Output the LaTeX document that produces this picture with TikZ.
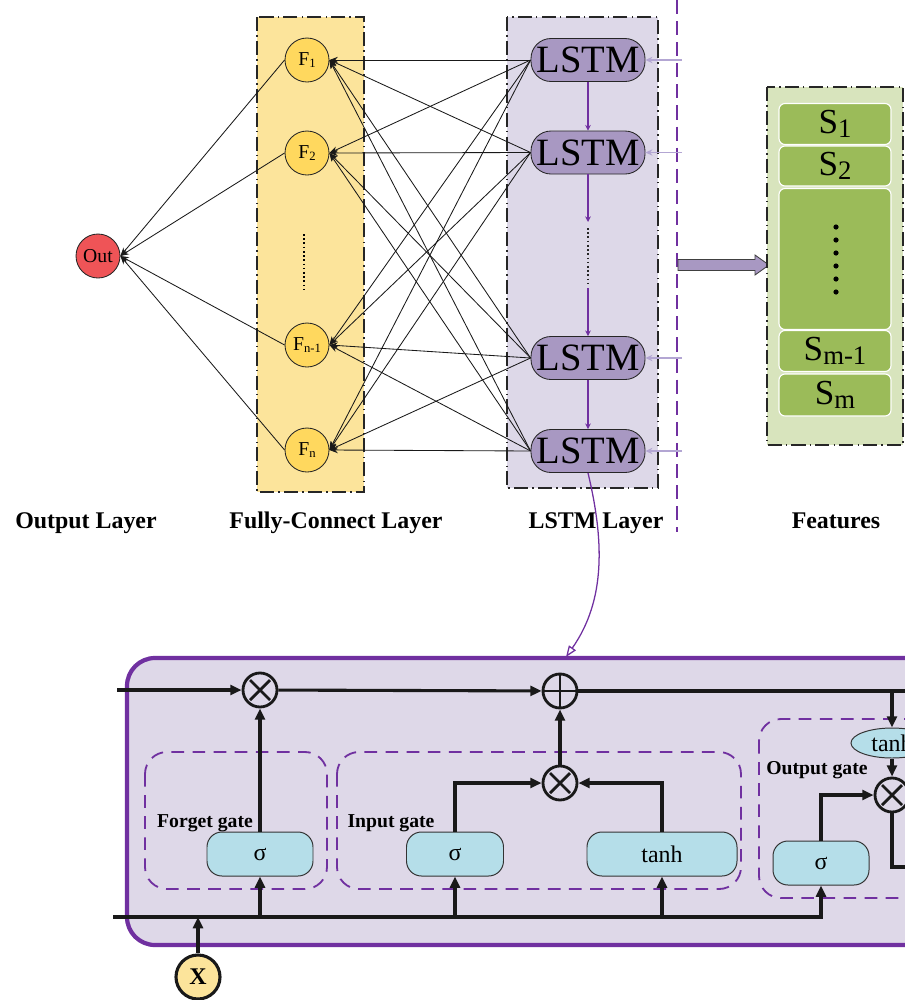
\documentclass[tikz,border=0pt]{standalone}
\usepackage{fontspec}
\setmainfont{Liberation Serif}
\usetikzlibrary{arrows.meta,shapes.geometric}
\newdimen\pxu \pxu=0.025cm
\definecolor{fcyel}{HTML}{FCE49B}
\definecolor{fnodec}{HTML}{FFD85E}
\definecolor{outred}{HTML}{EF5457}
\definecolor{lstmbg}{HTML}{DDD8E8}
\definecolor{lstmnodec}{HTML}{A898C2}
\definecolor{purp}{HTML}{7030A0}
\definecolor{lpurp}{HTML}{B3A6D3}
\definecolor{featbg}{HTML}{D8E4BD}
\definecolor{sgreen}{HTML}{9BBB59}
\definecolor{cyanbox}{HTML}{B5DEE9}
\definecolor{cellbg}{HTML}{DED8E8}
\newcommand\lsub[2]{\raisebox{-0.12em}{\fontsize{#1}{#1}\selectfont #2}}
\begin{document}
\begin{tikzpicture}[x=0.025cm,y=-0.025cm,
  dashdot/.style={draw=black!85, line width=1.5pt, dash pattern=on 10pt off 3pt on 1pt off 3pt},
  fcirc/.style={circle, draw=black!85, fill=fnodec, line width=0.6pt, minimum size=44\pxu, inner sep=0pt, font=\fontsize{14}{14}\selectfont},
  lstmbox/.style={rectangle, rounded corners=20\pxu, draw=black!85, fill=lstmnodec, line width=0.6pt, minimum width=114\pxu, minimum height=43\pxu, inner sep=0pt, font=\fontsize{27.5}{28}\selectfont},
  netline/.style={-{Stealth[length=6pt,width=4.5pt]}, line width=0.6pt, black!90},
  purparrow/.style={-{Stealth[length=4pt,width=4pt]}, line width=0.9pt, purp},
  inarrow/.style={-{Stealth[length=5pt,width=4.5pt]}, line width=0.9pt, lpurp},
  sbox/.style={rectangle, rounded corners=6\pxu, draw=white, line width=0.8pt, fill=sgreen, minimum width=112\pxu, inner sep=0pt, font=\fontsize{25}{25}\selectfont},
  layerlabel/.style={anchor=base, font=\bfseries\fontsize{17}{17}\selectfont},
  gatebox/.style={draw=purp, line width=1.3pt, dash pattern=on 9pt off 6pt, rounded corners=22\pxu},
  gatelabel/.style={font=\bfseries\fontsize{14}{14}\selectfont},
  cyanrect/.style={rectangle, rounded corners=15\pxu, draw=black!80, line width=0.7pt, fill=cyanbox, minimum height=44\pxu, inner sep=0pt, font=\fontsize{17}{17}\selectfont},
  cellline/.style={line width=2.2pt, black!90},
  cellarrow/.style={line width=2.2pt, black!90, -{Triangle[length=8pt,width=7pt]}},
  opx/.style={circle, draw=black!90, line width=2pt, minimum size=34\pxu, inner sep=0pt,
    path picture={\draw[line width=2pt] ([shift={(-10,-10)}]path picture bounding box.center) -- ([shift={(10,10)}]path picture bounding box.center);
      \draw[line width=2pt] ([shift={(-10,10)}]path picture bounding box.center) -- ([shift={(10,-10)}]path picture bounding box.center);}},
  opp/.style={circle, draw=black!90, line width=2pt, minimum size=34\pxu, inner sep=0pt,
    path picture={\draw[line width=2pt] ([shift={(-16,0)}]path picture bounding box.center) -- ([shift={(16,0)}]path picture bounding box.center);
      \draw[line width=2pt] ([shift={(0,-16)}]path picture bounding box.center) -- ([shift={(0,16)}]path picture bounding box.center);}}
]
\path[use as bounding box] (0,0) rectangle (905,1000);
\clip (0,0) rectangle (905,1000);

% ---------- upper network ----------
\filldraw[fill=fcyel, dashdot] (257,17) rectangle (364,492);
\filldraw[fill=lstmbg, dashdot] (507,17) rectangle (658,488);
\draw[purp, line width=1.5pt, dash pattern=on 10pt off 5pt] (677,0) -- (677,532);

\node[circle, draw=black!85, fill=outred, line width=0.6pt, minimum size=44\pxu, inner sep=0pt, font=\fontsize{14}{14}\selectfont] (out) at (98,256) {Out};

\node[fcirc] (F1) at (307,60) {F\lsub{9}{1}};
\node[fcirc] (F2) at (307,153) {F\lsub{9}{2}};
\node[fcirc] (F3) at (307,345) {F\lsub{9}{n-1}};
\node[fcirc] (F4) at (307,450) {F\lsub{9}{n}};
\draw[black, line width=1.2pt, dash pattern=on 1.2pt off 1.8pt] (304,234) -- (304,290);

\node[lstmbox] (L1) at (588,60) {LSTM};
\node[lstmbox] (L2) at (588,152.5) {LSTM};
\node[lstmbox] (L3) at (588,358) {LSTM};
\node[lstmbox] (L4) at (588,451) {LSTM};

\foreach \i in {1,...,4}{
  \foreach \j in {1,...,4}{
    \draw[netline] (L\i.west) -- (F\j.east);
  }
  \draw[netline] (F\i.west) -- (out.east);
}

\coordinate (m1) at (588,222);
\coordinate (d1) at (588,228);
\coordinate (d2) at (588,283);
\coordinate (m2) at (588,288);
\draw[purparrow] (L1) -- (L2);
\draw[purparrow] (L2) -- (m1);
\draw[black!85, line width=1.2pt, dash pattern=on 1.2pt off 1.8pt] (d1) -- (d2);
\draw[purparrow] (m2) -- (L3);
\draw[purparrow] (L3) -- (L4);

\foreach \i/\yy in {1/60,2/152.5,3/358,4/451}{
  \coordinate (in\i) at (682,\yy);
  \draw[inarrow] (in\i) -- (L\i.east);
}

% big arrow
\filldraw[fill=lstmnodec, draw=black!75, line width=0.6pt] (678,259.5) -- (755,259.5) -- (755,255) -- (769,265) -- (755,275) -- (755,270.5) -- (678,270.5) -- cycle;

% features
\filldraw[fill=featbg, dashdot] (767,87) rectangle (903,445);
\node[sbox, minimum height=41\pxu] (S1) at (835,124) {S\lsub{19}{1}};
\node[sbox, minimum height=40\pxu] (S2) at (835,166) {S\lsub{19}{2}};
\node[sbox, minimum height=141\pxu] (Sd) at (835,259) {};
\node[sbox, minimum height=41\pxu] (S3) at (835,351) {S\lsub{19}{m-1}};
\node[sbox, minimum height=42\pxu] (S4) at (835,395) {S\lsub{19}{m}};
\foreach \k in {0,...,5}{ \fill[black] (836,227+13*\k) circle[radius=2.6]; }

\node[layerlabel] (lab1) at (86,528) {Output Layer};
\node[layerlabel] (lab2) at (336,528) {Fully-Connect Layer};
\node[layerlabel] (lab3) at (596,528) {LSTM Layer};
\node[layerlabel] (lab4) at (836,528) {Features};

% ---------- LSTM cell ----------
\filldraw[draw=purp, fill=cellbg, line width=3pt, rounded corners=28\pxu] (127,658) rectangle (980,945);
\coordinate (celltop) at (566,657);
\draw[purp, line width=0.9pt, -{Triangle[open,length=8pt,width=6pt]}] (L4.south) .. controls (604,540) and (606,600) .. (celltop);

\draw[gatebox] (145,752) rectangle (327,889);
\draw[gatebox] (337,752) rectangle (741,889);
\draw[gatebox] (759,719) rectangle (990,898);

\node[gatelabel] (gf) at (205,823) {Forget gate};
\node[gatelabel] (gi) at (391,823) {Input gate};
\node[gatelabel] (go) at (817,770) {Output gate};

\node[opx] (xf) at (260,690) {};
\node[opp] (plus) at (560,691) {};
\node[opx] (xi) at (560,783) {};
\node[opx] (xo) at (892,795) {};

\node[cyanrect, minimum width=106\pxu] (sigf) at (260,854) {σ};
\node[cyanrect, minimum width=97\pxu] (sigi) at (455,854) {σ};
\node[cyanrect, minimum width=150\pxu] (tanhi) at (662,854) {tanh};
\node[cyanrect, minimum width=96\pxu] (sigo) at (821,863) {σ};
\node[ellipse, draw=black!80, line width=0.7pt, fill=cyanbox, minimum width=82\pxu, minimum height=30\pxu, inner sep=0pt, font=\fontsize{17}{17}\selectfont] (tanho) at (892,743) {tanh};

\node[circle, draw=black!90, fill=fcyel, line width=2.2pt, minimum size=44\pxu, inner sep=0pt, font=\bfseries\fontsize{17}{17}\selectfont] (xin) at (198,977) {X};

\coordinate (cin) at (117,690);
\coordinate (cout) at (915,691);
\coordinate (tb) at (892,691);
\coordinate (bin) at (113,917);
\coordinate (hout) at (915,867);

\draw[cellarrow] (cin) -- (xf);
\draw[cellarrow] (xf) -- (plus);
\draw[cellline] (plus) -- (cout);
\draw[cellarrow] (tb) -- (tanho);
\draw[cellarrow] (tanho) -- (xo);
\draw[cellline] (xo.south) |- (hout);

\draw[cellarrow] (bin) -| (sigo.south);
\draw[cellarrow] (sigf.south |- bin) -- (sigf.south);
\draw[cellarrow] (sigi.south |- bin) -- (sigi.south);
\draw[cellarrow] (tanhi.south |- bin) -- (tanhi.south);
\draw[cellarrow] (xin) -- (xin |- bin);

\draw[cellarrow] (sigf) -- (xf);
\draw[cellarrow] (sigi.north) |- (xi.west);
\draw[cellarrow] (tanhi.north) |- (xi.east);
\draw[cellarrow] (xi) -- (plus);
\draw[cellarrow] (sigo.north) |- (xo.west);
\end{tikzpicture}
\end{document}
